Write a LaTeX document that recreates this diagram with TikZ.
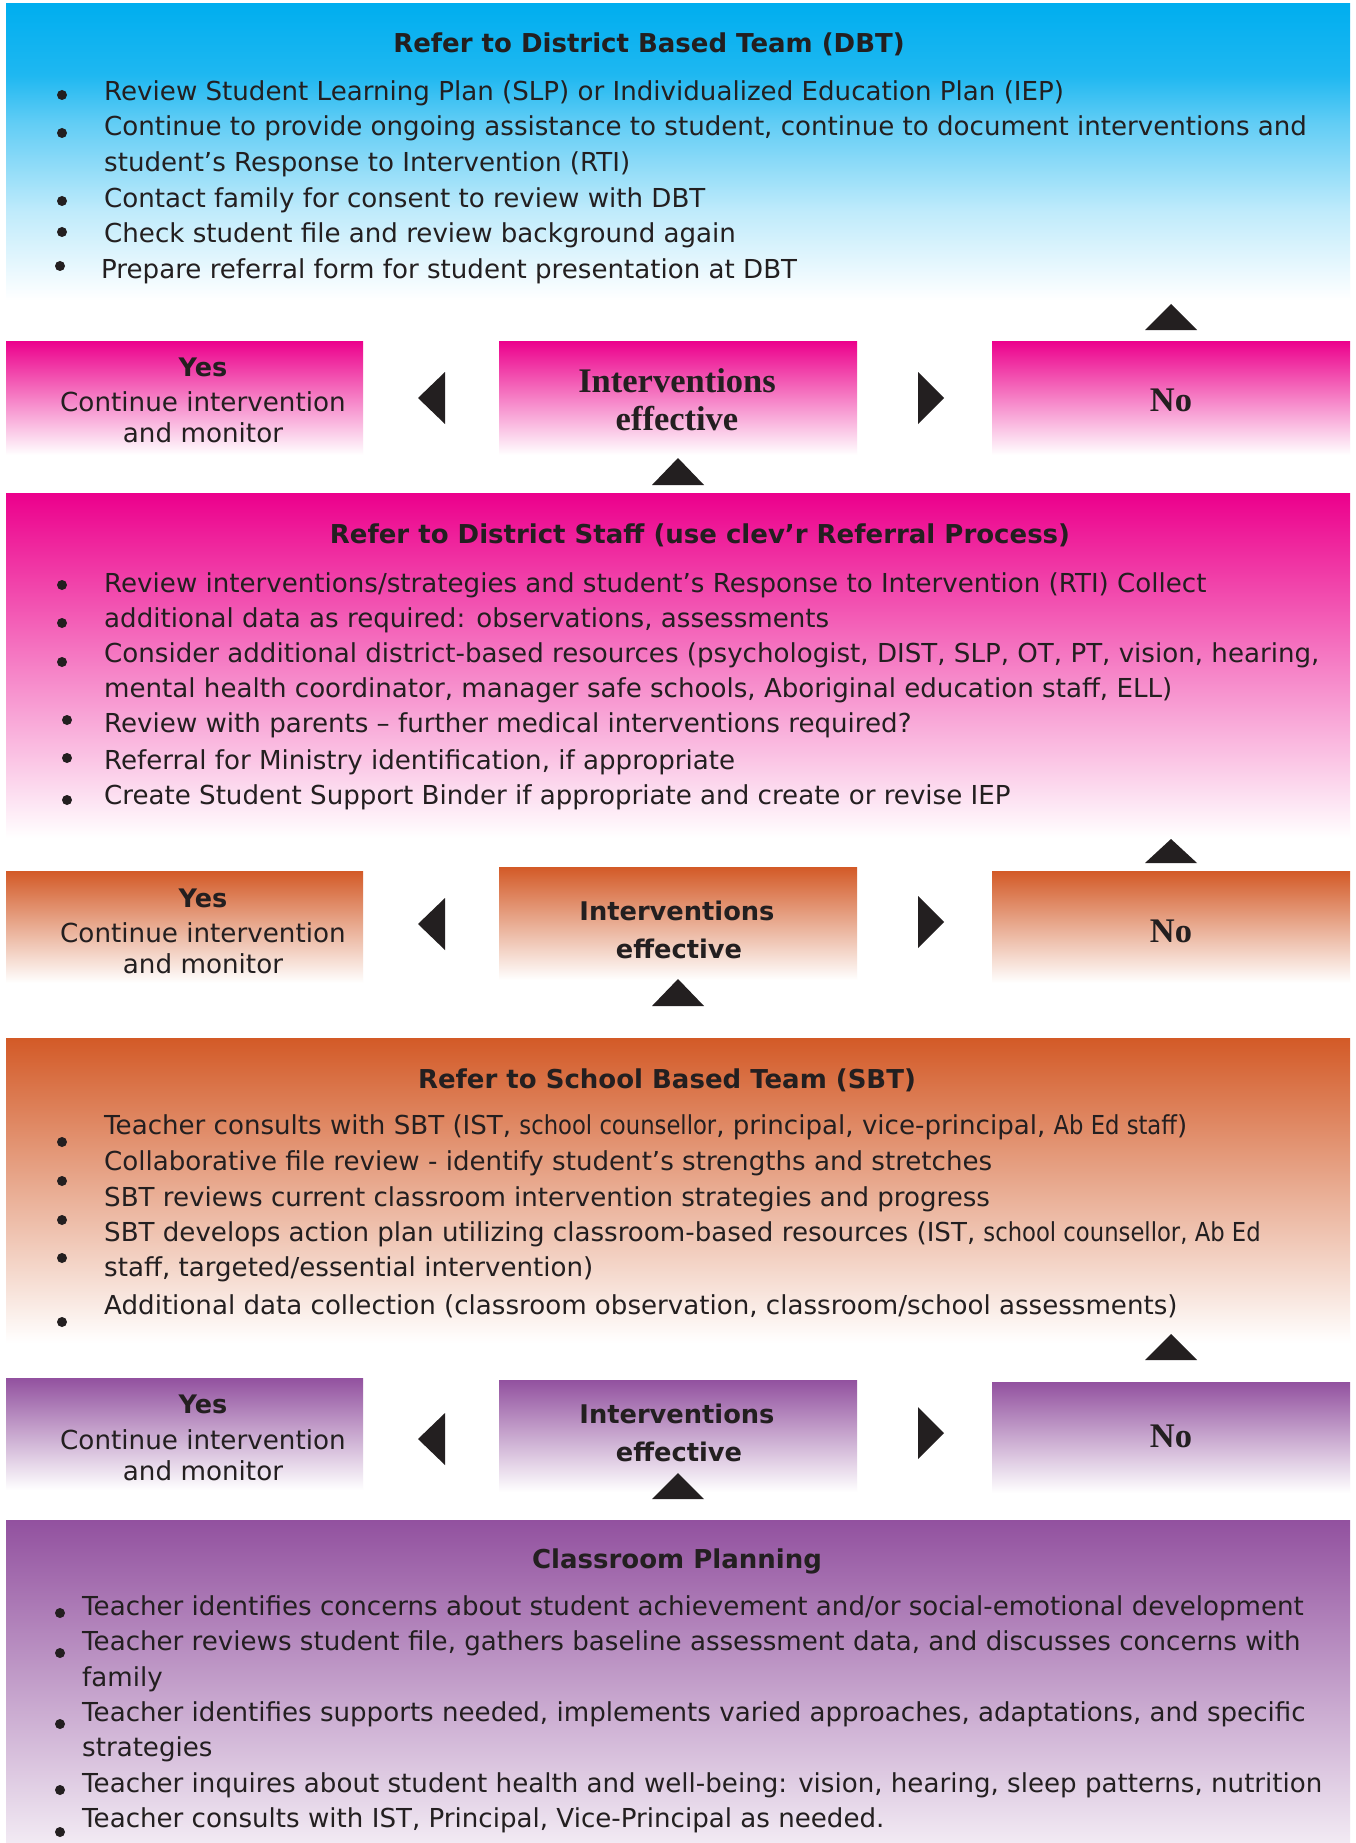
\documentclass[tikz,border=0pt]{standalone}
\usepackage{fontspec}
\setmainfont{DejaVu Sans}
\newfontfamily\condfont{DejaVu Sans}[FakeStretch=0.87]
\newfontfamily\serifbold{Liberation Serif}
\usetikzlibrary{calc}

\definecolor{txt}{HTML}{231F20}
\definecolor{cyanc}{HTML}{00AEEF}
\definecolor{magc}{HTML}{EC008C}
\definecolor{orgc}{HTML}{D35A27}
\definecolor{purc}{HTML}{92519F}
\colorlet{cyanA}{cyanc!25!white}
\colorlet{cyanB}{cyanc!62!white}
\colorlet{cyanD}{cyanc!88!white}
\colorlet{purlight}{purc!12!white}

\pgfdeclareverticalshading{dbtshade}{100bp}{color(0bp)=(white); color(25bp)=(white); color(40bp)=(cyanA); color(55bp)=(cyanB); color(63bp)=(cyanD); color(75bp)=(cyanc); color(100bp)=(cyanc)}

\tikzset{
  box/.style={rectangle, inner sep=0pt, outer sep=0pt, anchor=north west, draw=none, shade},
  body/.style={anchor=base west, inner sep=0pt, font=\fontsize{26.1}{35}\selectfont, text=txt},
  ttl/.style={anchor=base, inner sep=0pt, font=\fontsize{26}{34}\selectfont\bfseries, text=txt},
  yesb/.style={anchor=base, inner sep=0pt, font=\fontsize{25.5}{34}\selectfont\bfseries, text=txt},
  small/.style={anchor=base, inner sep=0pt, font=\fontsize{26.2}{30}\selectfont, text=txt},
  midsans/.style={anchor=base, inner sep=0pt, font=\fontsize{25.7}{34}\selectfont\bfseries, text=txt},
  midserif/.style={anchor=base, inner sep=0pt, font=\fontsize{34.5}{38}\selectfont\serifbold\bfseries, text=txt},
  tri/.style={fill=txt},
  dot/.style={fill=txt},
}

\begin{document}
\begin{tikzpicture}[x=1pt,y=-1pt]
\useasboundingbox (0,0) rectangle (1355,1843);
\fill[white] (0,0) rectangle (1355,1843);

% ---------- DBT box ----------
\node[box, shading=dbtshade, minimum width=1344pt, minimum height=296pt] (dbt) at (6,4) {};
\node[ttl] (dbtT) at (649,53) {Refer to District Based Team (DBT)};
\node[body] (d1) at (104,101) {Review Student Learning Plan (SLP) or Individualized Education Plan (IEP)};
\node[body] (d2) at (104,136) {Continue to provide ongoing assistance to student, continue to document interventions and};
\node[body] (d3) at (104,172) {student’s Response to Intervention (RTI)};
\node[body] (d4) at (104,208) {Contact family for consent to review with DBT};
\node[body] (d5) at (104,243) {Check student file and review background again};
\node[body] (d6) at (101,279) {Prepare referral form for student presentation at DBT};
\foreach \p in {(62,95),(62,133),(62,201),(62,232),(60,266)} \fill[dot] \p circle (5);
\fill[tri] (1171,304) -- (1197,330) -- (1145,330) -- cycle;

% ---------- Row 1 (pink) ----------
\node[box, top color=magc, bottom color=white, minimum width=357pt, minimum height=114pt] (y1) at (6,341) {};
\node[box, top color=magc, bottom color=white, minimum width=358pt, minimum height=114pt] (m1) at (499,341) {};
\node[box, top color=magc, bottom color=white, minimum width=358pt, minimum height=114pt] (n1) at (992,341) {};
\node[yesb] (y1a) at (203,376) {Yes};
\node[small] (y1b) at (203,411) {Continue intervention};
\node[small] (y1c) at (203,442) {and monitor};
\node[midserif] (m1a) at (677,392) {Interventions};
\node[midserif] (m1b) at (677,430) {effective};
\node[midserif] (n1a) at (1171,411) {No};
\fill[tri] (418,398) -- (445,372) -- (445,424) -- cycle;
\fill[tri] (944,398) -- (918,372) -- (918,424) -- cycle;
\fill[tri] (678,458) -- (704,485) -- (652,485) -- cycle;

% ---------- District staff (pink) ----------
\node[box, top color=magc, bottom color=white, minimum width=1344pt, minimum height=345pt] (ds) at (6,493) {};
\node[ttl] (dsT) at (700,543) {Refer to District Staff (use clev’r Referral Process)};
\node[body] (p1) at (104,592) {Review interventions/strategies and student’s Response to Intervention (RTI) Collect};
\node[body] (p2) at (104,627) {additional data as required: observations, assessments};
\node[body] (p3) at (104,662) {Consider additional district-based resources (psychologist, DIST, SLP, OT, PT, vision, hearing,};
\node[body] (p4) at (104,697) {mental health coordinator, manager safe schools, Aboriginal education staff, ELL)};
\node[body] (p5) at (104,732) {Review with parents – further medical interventions required?};
\node[body] (p6) at (104,769) {Referral for Ministry identification, if appropriate};
\node[body] (p7) at (104,804) {Create Student Support Binder if appropriate and create or revise IEP};
\foreach \p in {(62,585),(62,623),(62,662),(67,720),(67,758),(67,800)} \fill[dot] \p circle (5);
\fill[tri] (1171,839) -- (1197,863) -- (1145,863) -- cycle;

% ---------- Row 2 (orange) ----------
\node[box, top color=orgc, bottom color=white, minimum width=357pt, minimum height=112pt] (y2) at (6,871) {};
\node[box, top color=orgc, bottom color=white, minimum width=358pt, minimum height=113pt] (m2) at (499,867) {};
\node[box, top color=orgc, bottom color=white, minimum width=358pt, minimum height=112pt] (n2) at (992,871) {};
\node[yesb] (y2a) at (203,907) {Yes};
\node[small] (y2b) at (203,942) {Continue intervention};
\node[small] (y2c) at (203,973) {and monitor};
\node[midsans] (m2a) at (677,920) {Interventions};
\node[midsans] (m2b) at (679,958) {effective};
\node[midserif] (n2a) at (1171,942) {No};
\fill[tri] (418,924) -- (445,898) -- (445,950) -- cycle;
\fill[tri] (944,922) -- (918,896) -- (918,948) -- cycle;
\fill[tri] (678,979) -- (704,1006) -- (652,1006) -- cycle;

% ---------- SBT (orange) ----------
\node[box, top color=orgc, bottom color=white, minimum width=1344pt, minimum height=305pt] (sbt) at (6,1038) {};
\node[ttl] (sbtT) at (667,1088) {Refer to School Based Team (SBT)};
\node[body] (s1) at (104,1134) {Teacher consults with SBT (IST, {\condfont school counsellor}, principal, vice-principal, {\condfont Ab Ed staff})};
\node[body] (s2) at (104,1170) {Collaborative file review - identify student’s strengths and stretches};
\node[body] (s3) at (104,1206) {SBT reviews current classroom intervention strategies and progress};
\node[body] (s4) at (104,1241) {SBT develops action plan utilizing classroom-based resources (IST, {\condfont school counsellor, Ab Ed}};
\node[body] (s5) at (104,1276) {staff, targeted/essential intervention)};
\node[body] (s6) at (104,1314) {Additional data collection (classroom observation, classroom/school assessments)};
\foreach \p in {(62,1142),(62,1181),(62,1220),(62,1258),(62,1322)} \fill[dot] \p circle (5);
\fill[tri] (1171,1334) -- (1197,1360) -- (1145,1360) -- cycle;

% ---------- Row 3 (purple) ----------
\node[box, top color=purc, bottom color=white, minimum width=357pt, minimum height=112pt] (y3) at (6,1378) {};
\node[box, top color=purc, bottom color=white, minimum width=358pt, minimum height=112pt] (m3) at (499,1380) {};
\node[box, top color=purc, bottom color=white, minimum width=358pt, minimum height=111pt] (n3) at (992,1382) {};
\node[yesb] (y3a) at (203,1413) {Yes};
\node[small] (y3b) at (203,1449) {Continue intervention};
\node[small] (y3c) at (203,1480) {and monitor};
\node[midsans] (m3a) at (677,1423) {Interventions};
\node[midsans] (m3b) at (679,1461) {effective};
\node[midserif] (n3a) at (1171,1447) {No};
\fill[tri] (418,1439) -- (445,1413) -- (445,1465) -- cycle;
\fill[tri] (944,1433) -- (918,1407) -- (918,1459) -- cycle;
\fill[tri] (678,1473) -- (704,1499) -- (652,1499) -- cycle;

% ---------- Classroom planning (purple) ----------
\node[box, top color=purc, bottom color=purlight, minimum width=1344pt, minimum height=323pt] (cp) at (6,1520) {};
\node[ttl] (cpT) at (677,1568) {Classroom Planning};
\node[body] (c1) at (82,1615) {Teacher identifies concerns about student achievement and/or social-emotional development};
\node[body] (c2) at (82,1650) {Teacher reviews student file, gathers baseline assessment data, and discusses concerns with};
\node[body] (c3) at (82,1686) {family};
\node[body] (c4) at (82,1721) {Teacher identifies supports needed, implements varied approaches, adaptations, and specific};
\node[body] (c5) at (82,1756) {strategies};
\node[body] (c6) at (82,1792) {Teacher inquires about student health and well-being: vision, hearing, sleep patterns, nutrition};
\node[body] (c7) at (82,1827) {Teacher consults with IST, Principal, Vice-Principal as needed.};
\foreach \p in {(60,1613),(60,1653),(60,1724),(60,1790),(60,1832)} \fill[dot] \p circle (5);
\end{tikzpicture}
\end{document}
